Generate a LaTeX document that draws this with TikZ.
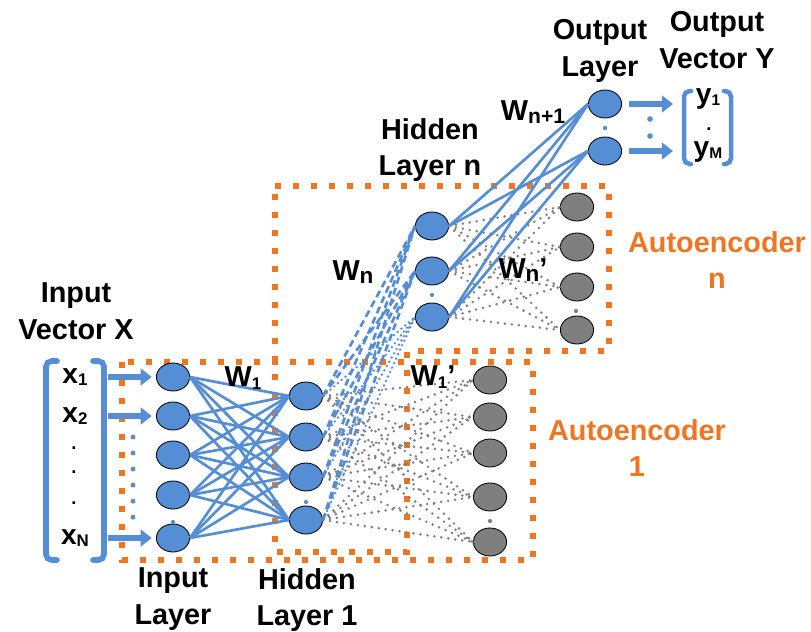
\documentclass[tikz,border=0pt]{standalone}
\usepackage{fontspec}
\setmainfont{Liberation Sans}
\usepackage{tikz}
\usetikzlibrary{shapes.geometric, arrows.meta}
\definecolor{nBlue}{HTML}{558ED5}
\definecolor{nGray}{HTML}{7F7F7F}
\definecolor{aeOrange}{HTML}{EE7623}

\newcommand{\lblfont}{\fontsize{20.5}{26}\selectfont\bfseries}
\newcommand{\sub}[2][12]{\raisebox{-0.15ex}{\fontsize{#1}{#1}\selectfont #2}}

\tikzset{
  unit/.style={ellipse, draw=black, line width=0.6pt, minimum width=0.83cm,
    minimum height=0.7cm, inner sep=0pt},
  enc/.style={unit, fill=nBlue},
  dec/.style={unit, fill=nGray},
  wire/.style={nBlue, line width=1.9pt},
  wdash/.style={nBlue, line width=1.9pt, dash pattern=on 5pt off 3pt},
  wdot/.style={nBlue, line width=1.9pt, line cap=round, dash pattern=on 0pt off 3.5pt},
  rwire/.style={nGray, line width=2pt, line cap=round, dash pattern=on 0pt off 5pt},
  feed/.style={nBlue, line width=3.8pt, -{Triangle[length=8pt, width=12pt]}},
  brak/.style={nBlue, line width=4pt, line cap=round, rounded corners=4pt},
  aebox/.style={aeOrange, line width=4pt, dash pattern=on 4pt off 8.8pt},
  txt/.style={font=\lblfont, align=center, inner sep=0pt},
  vlbl/.style={font=\fontsize{20}{22}\selectfont\bfseries, inner sep=0pt},
  vdot/.style={font=\fontsize{13}{14}\selectfont\bfseries, inner sep=0pt},
}

\begin{document}
\begin{tikzpicture}[x=0.025cm, y=-0.025cm]
  \useasboundingbox (0,0) rectangle (811,632);

  % autoencoder frames
  \draw[aebox] (122,362) rectangle (533,560);
  \draw[aebox] (275,186) -- (609,186) -- (609,351) -- (407,351) -- (407,552) -- (275,552) -- cycle;

  % layers
  \foreach \i/\y in {1/377,2/416,3/455,4/495,5/538}
    \node[enc] (in\i) at (173,\y) {};
  \foreach \i/\y in {1/396,2/437,3/477,4/520}
    \node[enc] (h\i) at (306,\y) {};
  \foreach \i/\y in {1/380,2/417,3/453,4/497,5/542}
    \node[dec] (r\i) at (490,\y) {};
  \foreach \i/\y in {1/226,2/271,3/317}
    \node[enc] (hn\i) at (432,\y) {};
  \foreach \i/\y in {1/207,2/247,3/287,4/330}
    \node[dec] (rn\i) at (577,\y) {};
  \node[enc] (out1) at (605,104) {};
  \node[enc] (out2) at (605,151) {};

  % weights
  \foreach \i in {1,...,5}
    \foreach \j in {1,...,4}
      \draw[wire] (in\i.east) -- (h\j.west);
  \foreach \i in {1,...,4} {
    \foreach \j in {1,2}
      \draw[wdash] (h\i.east) -- (hn\j.west);
    \draw[wdot] (h\i.east) -- (hn3.west);
  }
  \foreach \i in {1,...,4}
    \foreach \j in {1,...,5}
      \draw[rwire] (h\i.east) -- (r\j.west);
  \foreach \i in {1,2,3}
    \foreach \j in {1,...,4}
      \draw[rwire] (hn\i.east) -- (rn\j.west);
  \foreach \i in {1,2,3}
    \foreach \j in {1,2}
      \draw[wire] (hn\i.east) -- (out\j.west);

  % skipped units
  \fill[nBlue] (173,522) circle (1.5pt) (306,502) circle (1.5pt)
    (432,295) circle (1.5pt) (605,128) circle (1.5pt);
  \fill[nGray] (490,521) circle (1.5pt) (576,311) circle (1.5pt);
  \draw[nBlue, line width=3.5pt, line cap=round, dash pattern=on 0pt off 11.4pt] (133,437) -- (133,518);
  \fill[nBlue] (650,119) circle (2pt) (650,136) circle (2pt);

  % input vector
  \draw[brak] (57,361) -- (46,361) -- (46,560) -- (57,560);
  \draw[brak] (93,361) -- (104,361) -- (104,560) -- (93,560);
  \node[vlbl] (x1) at (75,377) {x\sub{1}};
  \node[vlbl] (x2) at (75,416) {x\sub{2}};
  \node[vdot] (xd1) at (74,448) {.};
  \node[vdot] (xd2) at (74,472) {.};
  \node[vdot] (xd3) at (74,503) {.};
  \node[vlbl] (xN) at (75,538) {x\sub{N}};
  \coordinate (xa1) at (108,377);
  \coordinate (xa2) at (108,416);
  \coordinate (xa5) at (108,538);
  \draw[feed, shorten >=3pt] (xa1) -- (in1.west);
  \draw[feed, shorten >=3pt] (xa2) -- (in2.west);
  \draw[feed, shorten >=3pt] (xa5) -- (in5.west);

  % output vector
  \draw[brak, line width=3.2pt] (691,91) -- (684,91) -- (684,164) -- (691,164);
  \draw[brak, line width=3.2pt] (724,91) -- (731,91) -- (731,164) -- (724,164);
  \node[vlbl] (y1) at (708,99) {y\sub[11]{1}};
  \node[vdot] (yd) at (709,129) {.};
  \node[vlbl] (yM) at (708,152) {y\sub[11]{M}};
  \coordinate (ya1) at (673,104);
  \coordinate (ya2) at (673,151);
  \draw[feed, shorten <=5pt] (out1.east) -- (ya1);
  \draw[feed, shorten <=5pt] (out2.east) -- (ya2);

  % labels
  \node[txt] (invec) at (76,311) {Input\\Vector X};
  \node[txt] (inlay) at (173,599) {Input\\Layer};
  \node[txt] (hlay1) at (307,600) {Hidden\\Layer 1};
  \node[txt] (hlayn) at (430,150) {Hidden\\Layer n};
  \node[txt] (outlay) at (600,51) {Output\\Layer};
  \node[txt] (outvec) at (717,40) {Output\\Vector Y};
  \node[txt, aeOrange] (ae1) at (637,448) {Autoencoder\\1};
  \node[txt, aeOrange] (aen) at (717,260) {Autoencoder\\n};
  \node[txt] (w1) at (243,378) {W\sub{1}};
  \node[txt] (w1r) at (433,377) {W\sub{1}’};
  \node[txt] (wn) at (353,272) {W\sub[16]{n}};
  \node[txt] (wnr) at (523,270) {W\sub[16]{n}’};
  \node[txt] (wout) at (533,112) {W\sub[15]{n+1}};
\end{tikzpicture}
\end{document}
